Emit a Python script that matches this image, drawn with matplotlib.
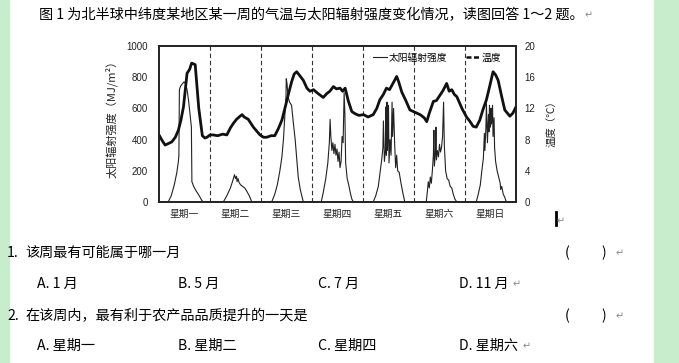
import matplotlib
matplotlib.use('Agg')
import matplotlib.pyplot as plt
from matplotlib.lines import Line2D
from matplotlib.patches import Rectangle

W, H = 679, 363
CJK = ['Noto Sans CJK SC', 'DejaVu Sans']
plt.rcParams['font.family'] = CJK

# ---- data (x in days since Monday 0:00) ----
days = ['星期一', '星期二', '星期三', '星期四', '星期五', '星期六', '星期日']

rad_t = [0, 0.18, 0.24, 0.30, 0.35, 0.38, 0.39, 0.40, 0.42, 0.45, 0.49, 0.52, 0.55, 0.58, 0.61, 0.635, 0.645,
         0.68, 0.73, 0.78, 0.84, 0.87,
         1.26, 1.33, 1.40, 1.45, 1.48, 1.50, 1.52, 1.53, 1.55, 1.57, 1.60, 1.64, 1.68, 1.72, 1.77, 1.82,
         2.21, 2.27, 2.32, 2.37, 2.41, 2.44, 2.47, 2.49, 2.495, 2.51, 2.53, 2.56, 2.60, 2.63, 2.67, 2.70,
         2.73, 2.77, 2.80, 2.83,
         3.18, 3.22, 3.27, 3.31, 3.34, 3.355, 3.37, 3.39, 3.41, 3.43, 3.45, 3.47, 3.49, 3.51, 3.53, 3.55,
         3.57, 3.59, 3.61, 3.63, 3.645, 3.66, 3.69, 3.72, 3.75, 3.78, 3.81,
         4.20, 4.25, 4.30, 4.34, 4.37, 4.39, 4.40, 4.42, 4.44, 4.45, 4.46, 4.47, 4.48, 4.50, 4.51, 4.53,
         4.55, 4.57, 4.58, 4.60, 4.62, 4.64, 4.66, 4.68, 4.71, 4.74, 4.78, 4.82,
         5.24, 5.26, 5.28, 5.30, 5.32, 5.34, 5.36, 5.38, 5.39, 5.40, 5.42, 5.43, 5.44, 5.46, 5.48, 5.50,
         5.52, 5.54, 5.56, 5.58, 5.595, 5.62, 5.65, 5.68, 5.71, 5.74, 5.77, 5.80, 5.84,
         6.22, 6.26, 6.30, 6.33, 6.36, 6.38, 6.39, 6.41, 6.42, 6.44, 6.46, 6.47, 6.48, 6.50, 6.51, 6.52,
         6.54, 6.55, 6.57, 6.58, 6.60, 6.63, 6.66, 6.69, 6.70, 6.72, 6.75, 6.78, 6.81, 7.0]
rad_v = [0, 0, 40, 110, 190, 260, 300, 720, 740, 755, 770, 760, 720, 650, 560, 480, 130,
         100, 70, 45, 10, 0,
         0, 40, 90, 140, 175, 150, 165, 130, 150, 125, 110, 100, 90, 70, 40, 0,
         0, 50, 110, 200, 290, 400, 570, 680, 790, 760, 675, 640, 620, 520, 400, 280,
         160, 80, 40, 0,
         0, 60, 150, 250, 380, 530, 420, 330, 380, 310, 370, 300, 340, 260, 320, 220,
         260, 420, 380, 700, 560, 250, 150, 110, 60, 20, 0,
         0, 40, 100, 200, 280, 350, 520, 260, 330, 610, 300, 640, 330, 620, 250, 400,
         300, 640, 420, 600, 380, 220, 300, 200, 190, 130, 60, 0,
         0, 60, 130, 90, 160, 120, 200, 300, 460, 230, 320, 480, 270, 330, 290, 370,
         320, 350, 420, 640, 360, 200, 150, 140, 100, 90, 50, 20, 0,
         0, 50, 110, 200, 280, 440, 330, 480, 630, 380, 560, 450, 620, 480, 600, 500,
         620, 420, 540, 350, 260, 200, 160, 120, 80, 100, 50, 30, 0, 0]

temp_t = [0, 0.06, 0.12, 0.25, 0.32, 0.38, 0.43, 0.48, 0.55, 0.60, 0.64, 0.68, 0.71, 0.73, 0.78, 0.85,
          0.90, 0.94, 1.00, 1.06, 1.15, 1.25, 1.33, 1.40, 1.46, 1.52, 1.59, 1.63, 1.67, 1.75, 1.85, 1.98,
          2.05, 2.11, 2.20, 2.27, 2.34, 2.41, 2.48, 2.54, 2.60, 2.65, 2.70, 2.76, 2.83, 2.90, 2.96, 3.03,
          3.10, 3.16, 3.22, 3.29, 3.35, 3.42, 3.48, 3.55, 3.60, 3.65, 3.71, 3.75, 3.78, 3.85, 3.92, 4.01,
          4.10, 4.20, 4.27, 4.33, 4.40, 4.46, 4.52, 4.57, 4.62, 4.66, 4.70, 4.76, 4.84, 4.92, 5.02, 5.12,
          5.20, 5.25, 5.30, 5.38, 5.44, 5.51, 5.57, 5.64, 5.69, 5.74, 5.79, 5.84, 5.94, 6.03, 6.10, 6.16,
          6.22, 6.29, 6.35, 6.42, 6.49, 6.55, 6.60, 6.65, 6.72, 6.78, 6.88, 6.94, 7.0]
temp_v = [8.6, 7.9, 7.3, 7.7, 8.3, 9.2, 10.5, 12.2, 16.5, 17.0, 17.8, 17.7, 17.6, 16.0, 12.0, 8.5,
          8.2, 8.3, 8.6, 8.6, 8.5, 8.7, 8.6, 9.5, 10.1, 10.6, 11.0, 11.2, 10.9, 10.6, 9.6, 8.6,
          8.3, 8.3, 8.5, 8.5, 9.4, 10.5, 12.3, 13.9, 15.4, 16.4, 16.7, 16.2, 15.6, 14.6, 14.2, 14.4,
          14.0, 13.7, 13.4, 13.9, 14.2, 14.8, 14.5, 14.6, 14.2, 14.6, 13.0, 12.2, 11.6, 11.3, 11.1, 11.2,
          10.9, 11.2, 12.0, 13.1, 13.8, 14.6, 14.4, 15.0, 15.6, 16.1, 15.4, 14.1, 13.0, 11.8, 11.5, 11.2,
          10.8, 10.3, 11.4, 12.9, 13.0, 13.7, 14.3, 15.2, 14.2, 14.4, 13.8, 13.5, 12.0, 10.9, 10.3, 9.7,
          9.6, 10.5, 11.8, 13.1, 15.0, 16.7, 16.3, 15.6, 13.5, 11.8, 11.0, 11.4, 12.2]

rad_ticks = [0, 200, 400, 600, 800, 1000]
temp_ticks = [0, 4, 8, 12, 16, 20]

title = '图 1 为北半球中纬度某地区某一周的气温与太阳辐射强度变化情况，读图回答 1～2 题。'
q1 = '该周最有可能属于哪一月'
q2 = '在该周内，最有利于农产品品质提升的一天是'
opts1 = ['A. 1 月', 'B. 5 月', 'C. 7 月', 'D. 11 月']
opts2 = ['A. 星期一', 'B. 星期二', 'C. 星期四', 'D. 星期六']


def fx(x):
    return x / W


def fy(y):
    return 1 - y / H


fig = plt.figure(figsize=(W / 100, H / 100), dpi=100)
fig.patch.set_facecolor('white')
green = '#c7edcc'
fig.patches.append(Rectangle((0, 0), fx(9), 1, transform=fig.transFigure, color=green, zorder=0))
fig.patches.append(Rectangle((fx(654), 0), 1, 1, transform=fig.transFigure, color=green, zorder=0))

ax = fig.add_axes([fx(159), fy(202), fx(357), 156 / H])
ax2 = ax.twinx()

for d in range(1, 7):
    ax.axvline(d, color='#333333', lw=0.8, ls=(0, (4, 2.5)))

ax.plot(rad_t, rad_v, color='#222222', lw=0.8)
ax2.plot(temp_t, temp_v, color='#111111', lw=2.0)

ax.set_xlim(0, 7)
ax.set_ylim(0, 1000)
ax2.set_ylim(0, 20)
ax.set_yticks(rad_ticks)
ax2.set_yticks(temp_ticks)
ax.set_xticks([d + 0.5 for d in range(7)])
ax.set_xticklabels(days, fontsize=7, color='#222222')
ax.tick_params(axis='x', length=0, pad=5)
ax.tick_params(axis='y', length=0, pad=8)
ax2.tick_params(axis='y', length=0, pad=6)
for lab in ax.get_yticklabels() + ax2.get_yticklabels():
    lab.set_fontfamily('Liberation Sans')
    lab.set_fontsize(7)
    lab.set_color('#222222')
for a in (ax, ax2):
    for s in a.spines.values():
        s.set_linewidth(1.2)
        s.set_color('#222222')

ax.set_ylabel('太阳辐射强度（MJ/m²）', fontsize=8, color='#222222')
ax.yaxis.set_label_coords(-0.115, 0.55)
ax2.set_ylabel('温度（℃）', fontsize=7.5, color='#222222', rotation=90)
ax2.yaxis.set_label_coords(1.087, 0.52)

handles = [Line2D([], [], color='#222222', lw=0.8),
           Line2D([], [], color='#111111', lw=1.8, ls=(0, (2, 1)))]
ax.legend(handles, ['太阳辐射强度', '温度'], ncol=2, loc='center right',
          bbox_to_anchor=(0.958, 0.925), frameon=False, fontsize=7, handlelength=1.4,
          handletextpad=0.2, columnspacing=1.9, borderpad=0, borderaxespad=0)

# ---- page text (y given as line centre, drawn on baseline) ----
txt = dict(fontsize=10.2, color='black', va='baseline', ha='left', family=CJK)
mark = dict(fontsize=7, color='#888888', va='baseline', ha='left', family=['DejaVu Sans'])
B = 5

fig.text(fx(39), fy(14 + B), title, **txt)
fig.text(fx(585), fy(15 + 3), '↵', **mark)

fig.text(fx(7), fy(252 + B), '1.', **txt)
fig.text(fx(25), fy(252 + B), q1, **txt)
fig.text(fx(7), fy(315 + B), '2.', **txt)
fig.text(fx(25), fy(315 + B), q2, **txt)
for yy in (252, 315):
    fig.text(fx(565), fy(yy + B), '(', **txt)
    fig.text(fx(601), fy(yy + B), ')', **txt)
    fig.text(fx(616), fy(yy + 4), '↵', **mark)

opt_x = [37, 178, 318, 459]
for x, o in zip(opt_x, opts1):
    fig.text(fx(x), fy(283 + B), o, **txt)
for x, o in zip(opt_x, opts2):
    fig.text(fx(x), fy(345 + B), o, **txt)
fig.text(fx(513), fy(287), '↵', **mark)
fig.text(fx(523), fy(349), '↵', **mark)

fig.add_artist(Line2D([fx(556), fx(556)], [fy(212), fy(225)], color='black', lw=2))
fig.text(fx(557), fy(224), '↵', **mark)

fig.savefig('out.png', dpi=100)
